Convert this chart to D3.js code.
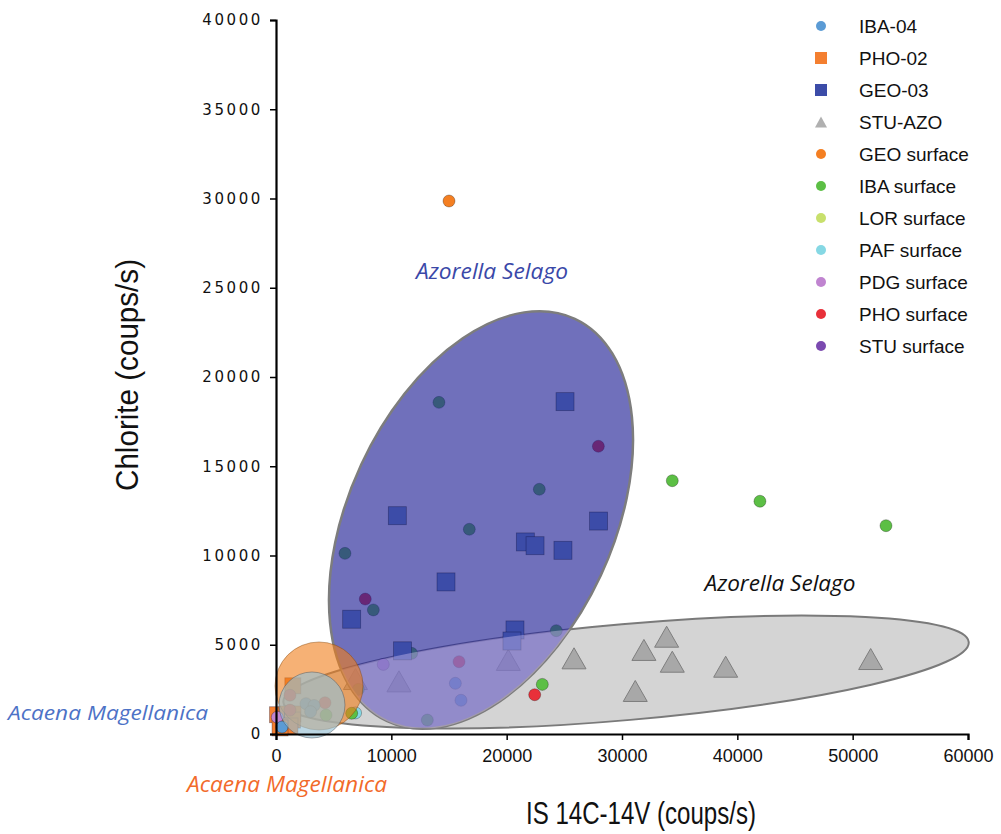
<!DOCTYPE html>
<html><head><meta charset="utf-8">
<script src="https://cdn.jsdelivr.net/npm/d3@7"></script>
<style>body{margin:0;background:#fff}svg{display:block}</style>
</head><body><svg id="c" width="1001" height="834"></svg>
<script>
// ---------- data ----------
const xTicks = [0, 10000, 20000, 30000, 40000, 50000, 60000];
const yTicks = [0, 5000, 10000, 15000, 20000, 25000, 30000, 35000, 40000];
const legendNames = ["IBA-04","PHO-02","GEO-03","STU-AZO","GEO surface","IBA surface","LOR surface","PAF surface","PDG surface","PHO surface","STU surface"];

const iba04 = [[15550,2840],[16040,1890],[2600,1700],[3300,1600],[3000,1250],[520,390]];
const pho02 = [[130,1080],[1460,2700],[950,1120],[1470,1120],[1430,780],[1210,450],[350,340]];
const geo03 = [[25060,18620],[10520,12230],[27970,11930],[21620,10760],[22460,10550],[24880,10290],[14740,8520],[6560,6430],[10970,4660],[20720,5830],[20460,5210]];
const stuAzo = [[25840,4240],[31900,4710],[33870,5450],[34360,4050],[38990,3770],[31150,2410],[51560,4200],[20140,4150],[10660,2950],[6890,3080]];
const geoSurface = [[15000,29860]];
const ibaSurface = [[34360,14190],[41960,13040],[52890,11670],[24300,5790],[23090,2780],[14130,18580],[22830,13710],[16760,11470],[5980,10120],[8440,6950],[11760,4520],[13120,780],[4340,1060],[6560,1160],[7140,2500]];
const lorSurface = [];
const pafSurface = [[6900,1180]];
const pdgSurface = [[9300,3900],[110,940]];
const phoSurface = [[27950,16120],[7740,7560],[15870,4050],[1210,2170],[1210,1340],[4250,1750],[22430,2200]];
const stuSurface = [];

// group envelopes (centre in data units)
const blueEnv = {cx:17775, cy:11990};
const greyEnv = {cx:30350, cy:3470};
const orangeEnv = {cx:3730, cy:2690};
const lightEnv = {cx:3120, cy:1625};

// ---------- setup ----------
const svg = d3.select("#c");
const x = d3.scaleLinear().domain([0,60000]).range([276,968]);
const y = d3.scaleLinear().domain([0,40000]).range([734,20]);

const col = {
  "IBA-04":"#5b9bd5","PHO-02":"#f47f30","GEO-03":"#3c4ca8","STU-AZO":"#a8a8a8",
  "GEO surface":"#f47f22","IBA surface":"#5cbf45","LOR surface":"#c8e06c","PAF surface":"#86d8e4",
  "PDG surface":"#c084d0","PHO surface":"#e8303a","STU surface":"#7b4ab0"
};

const defs = svg.append("defs");
const blueT = `translate(${x(blueEnv.cx)},${y(blueEnv.cy)}) rotate(25)`;
const greyT = `translate(${x(greyEnv.cx)},${y(greyEnv.cy)}) rotate(-5)`;
defs.append("clipPath").attr("id","blueClip").append("ellipse")
  .attr("rx",132).attr("ry",222).attr("transform",blueT);

// grey envelope
svg.append("ellipse").attr("rx",344).attr("ry",48).attr("transform",greyT)
  .attr("fill","#d4d4d4").attr("stroke","#7a7a7a").attr("stroke-width",2);

const gPts = svg.append("g");
function circles(data,name,g){
  g.selectAll(null).data(data).enter().append("circle")
   .attr("cx",d=>x(d[0])).attr("cy",d=>y(d[1])).attr("r",6)
   .attr("fill",col[name]).attr("stroke","rgba(0,0,0,0.35)").attr("stroke-width",0.8);
}
function squares(data,name,g,s){
  g.selectAll(null).data(data).enter().append("rect")
   .attr("x",d=>x(d[0])-s/2).attr("y",d=>y(d[1])-s/2).attr("width",s).attr("height",s)
   .attr("fill",col[name]).attr("stroke","rgba(0,0,40,0.35)").attr("stroke-width",0.8);
}
const tri = (w,h)=>`M0,${-h/2}L${w/2},${h/2}L${-w/2},${h/2}Z`;
function triangles(data,name,g){
  g.selectAll(null).data(data).enter().append("path")
   .attr("d",tri(24,21)).attr("transform",d=>`translate(${x(d[0])},${y(d[1])})`)
   .attr("fill",col[name]).attr("stroke","#7e7e7e").attr("stroke-width",1);
}
squares(pho02,"PHO-02",gPts,16);
triangles(stuAzo,"STU-AZO",gPts);
circles(lorSurface,"LOR surface",gPts);
circles(stuSurface,"STU surface",gPts);
circles(pafSurface,"PAF surface",gPts);
circles(ibaSurface,"IBA surface",gPts);
circles(pdgSurface,"PDG surface",gPts);
circles(phoSurface,"PHO surface",gPts);
circles(geoSurface,"GEO surface",gPts);
circles(iba04,"IBA-04",gPts);

// blue envelope
svg.append("ellipse").attr("rx",132).attr("ry",222).attr("transform",blueT)
  .attr("fill","rgb(35,35,150)").attr("fill-opacity",0.65)
  .attr("stroke","#7d7d7d").attr("stroke-width",2.5);

const gSq = svg.append("g");
squares(geo03,"GEO-03",gSq,18);

// lightening of the overlap
svg.append("g").attr("clip-path","url(#blueClip)")
  .append("ellipse").attr("rx",344).attr("ry",48).attr("transform",greyT)
  .attr("fill","rgb(232,214,255)").attr("fill-opacity",0.36);

// Acaena envelopes
svg.append("circle").attr("cx",x(orangeEnv.cx)).attr("cy",y(orangeEnv.cy)).attr("r",44)
  .attr("fill","rgb(240,125,25)").attr("fill-opacity",0.6).attr("stroke","rgba(120,60,0,0.4)").attr("stroke-width",1);
svg.append("circle").attr("cx",x(lightEnv.cx)).attr("cy",y(lightEnv.cy)).attr("r",33)
  .attr("fill","rgb(150,192,212)").attr("fill-opacity",0.65).attr("stroke","rgba(80,90,100,0.5)").attr("stroke-width",1);

// ---------- axes ----------
const ax = svg.append("g").attr("transform","translate(0,734)")
  .call(d3.axisBottom(x).tickValues(xTicks).tickFormat(d3.format("d")).tickSizeOuter(0).tickSize(6).tickPadding(9));
const ay = svg.append("g").attr("transform","translate(276,0)")
  .call(d3.axisLeft(y).tickValues(yTicks).tickFormat(d3.format("d")).tickSizeOuter(0).tickSize(6).tickPadding(7));
[ax,ay].forEach(a=>{
  a.select(".domain").attr("stroke","#000").attr("stroke-width",2.2);
  a.selectAll(".tick line").attr("stroke","#000").attr("stroke-width",1.5);
});
ax.selectAll("text").attr("font-family","'Liberation Sans Narrow','Liberation Sans',Arial,sans-serif")
  .attr("font-size",18).attr("fill","#111");
ay.selectAll("text").attr("font-family","'DejaVu Sans',Verdana,sans-serif")
  .attr("font-size",15).attr("letter-spacing","2.6px").attr("fill","#111");

// axis titles
svg.append("text").attr("x",641).attr("y",824).attr("text-anchor","middle")
  .attr("font-family","'Liberation Sans',Arial,sans-serif").attr("font-size",32)
  .attr("textLength",230).attr("lengthAdjust","spacingAndGlyphs").attr("fill","#111")
  .text("IS 14C-14V (coups/s)");
svg.append("text").attr("transform","translate(138,375) rotate(-90)").attr("text-anchor","middle")
  .attr("font-family","'Liberation Sans',Arial,sans-serif").attr("font-size",32)
  .attr("textLength",232).attr("lengthAdjust","spacingAndGlyphs").attr("fill","#111")
  .text("Chlorite (coups/s)");

// annotations
function ann(t,cx,cy,w,color,size){
  svg.append("text").attr("x",cx).attr("y",cy).attr("dy","0.35em").attr("text-anchor","middle")
   .attr("font-family","'Open Sans','Liberation Sans',sans-serif").attr("font-style","italic")
   .attr("font-size",size).attr("textLength",w).attr("lengthAdjust","spacingAndGlyphs")
   .attr("fill",color).text(t);
}
ann("Azorella Selago",492,272,152,"#3a48a8",21);
ann("Azorella Selago",780,584,151,"#111",21);
ann("Acaena Magellanica",108,713,200,"#4d72c6",20);
ann("Acaena Magellanica",287,785,200,"#f26a2a",21);

// ---------- legend ----------
const lg = svg.append("g");
legendNames.forEach((n,i)=>{
  const yy = 26 + i*32, xx = 821;
  if (n==="PHO-02"||n==="GEO-03"){
    lg.append("rect").attr("x",xx-6).attr("y",yy-6).attr("width",12).attr("height",12).attr("fill",col[n]);
  } else if (n==="STU-AZO"){
    lg.append("path").attr("d",tri(12,11)).attr("transform",`translate(${xx},${yy})`).attr("fill","#b0b0b0");
  } else {
    lg.append("circle").attr("cx",xx).attr("cy",yy).attr("r",5).attr("fill",col[n]);
  }
  lg.append("text").attr("x",859).attr("y",yy).attr("dy","0.35em")
    .attr("font-family","'Liberation Sans',Arial,sans-serif").attr("font-size",19).attr("fill","#111").text(n);
});
</script></body></html>
